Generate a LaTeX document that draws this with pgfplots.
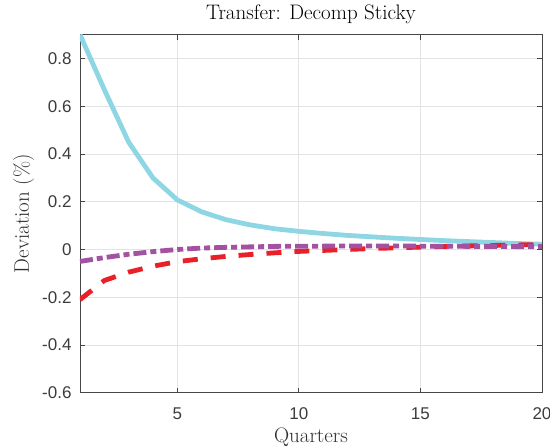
\documentclass[border=0pt]{standalone}
\usepackage{pgfplots}
\pgfplotsset{compat=1.18}
\usepackage{fontspec}
\newfontfamily\arialfont{Liberation Sans}

\definecolor{lcyan}{RGB}{142,214,228}
\definecolor{lred}{RGB}{234,32,40}
\definecolor{lpurple}{RGB}{162,82,160}
\definecolor{axgray}{RGB}{70,70,70}
\definecolor{txtgray}{RGB}{60,60,60}
\definecolor{labgray}{RGB}{45,45,45}

\begin{document}
\begin{tikzpicture}
\begin{axis}[
  name=ax, at={(0,0)}, anchor=south west,
  scale only axis, width=462pt, height=358pt,
  xmin=1, xmax=20, ymin=-0.6, ymax=0.9,
  xtick={5,10,15,20}, xticklabels={5,10,15,20},
  ytick={-0.6,-0.4,-0.2,0,0.2,0.4,0.6,0.8},
  yticklabels={-0.6,-0.4,-0.2,0,0.2,0.4,0.6,0.8},
  grid=major, major grid style={line width=0.8pt, color=black!11},
  tick align=inside, major tick length=5pt,
  axis line style={line width=0.9pt, color=axgray},
  tick style={line width=0.9pt, color=axgray},
  ticklabel style={font=\arialfont\fontsize{17}{20}\selectfont, color=txtgray, inner sep=0pt},
  xticklabel style={anchor=base, yshift=-26.6pt},
  yticklabel style={anchor=east, xshift=-8.3pt},
  title={Transfer: Decomp Sticky},
  title style={font=\fontsize{21}{25}\selectfont, color=black, inner sep=0pt,
    at={(axis description cs:0.5,1)}, anchor=base, yshift=8.7pt},
  xlabel={Quarters},
  xlabel style={font=\fontsize{21}{25}\selectfont, color=labgray, inner sep=0pt,
    at={(axis description cs:0.5,0)}, anchor=base, yshift=-49.6pt},
  ylabel={Deviation (\%)},
  ylabel style={font=\fontsize{21}{25}\selectfont, color=labgray, inner sep=0pt,
    at={(axis description cs:-0.1104,0.5)}, anchor=base},
  every axis plot/.append style={line join=round},
]
% total response
\addplot[color=lcyan, line width=4.8pt] coordinates {
  (1,0.900) (2,0.670) (3,0.450) (4,0.300) (5,0.208) (6,0.158) (7,0.125)
  (8,0.103) (9,0.087) (10,0.076) (11,0.067) (12,0.059) (13,0.053) (14,0.047)
  (15,0.042) (16,0.037) (17,0.033) (18,0.029) (19,0.025) (20,0.022)};
% first component
\addplot[color=lred, line width=4.8pt, dash pattern=on 15pt off 13pt] coordinates {
  (1,-0.210) (2,-0.130) (3,-0.095) (4,-0.070) (5,-0.051) (6,-0.039) (7,-0.029)
  (8,-0.021) (9,-0.014) (10,-0.008) (11,-0.004) (12,0.000) (13,0.004) (14,0.007)
  (15,0.010) (16,0.013) (17,0.015) (18,0.017) (19,0.019) (20,0.021)};
% second component
\addplot[color=lpurple, line width=4.8pt, dash pattern=on 13pt off 4pt on 6pt off 4pt] coordinates {
  (1,-0.050) (2,-0.034) (3,-0.020) (4,-0.009) (5,0.000) (6,0.006) (7,0.009)
  (8,0.011) (9,0.013) (10,0.014) (11,0.014) (12,0.015) (13,0.015) (14,0.015)
  (15,0.014) (16,0.014) (17,0.013) (18,0.013) (19,0.012) (20,0.012)};
\end{axis}
\pgfresetboundingbox
\path (ax.south west) ++(-80pt,-53.3pt) rectangle ++(550pt,446pt);
\end{tikzpicture}
\end{document}
